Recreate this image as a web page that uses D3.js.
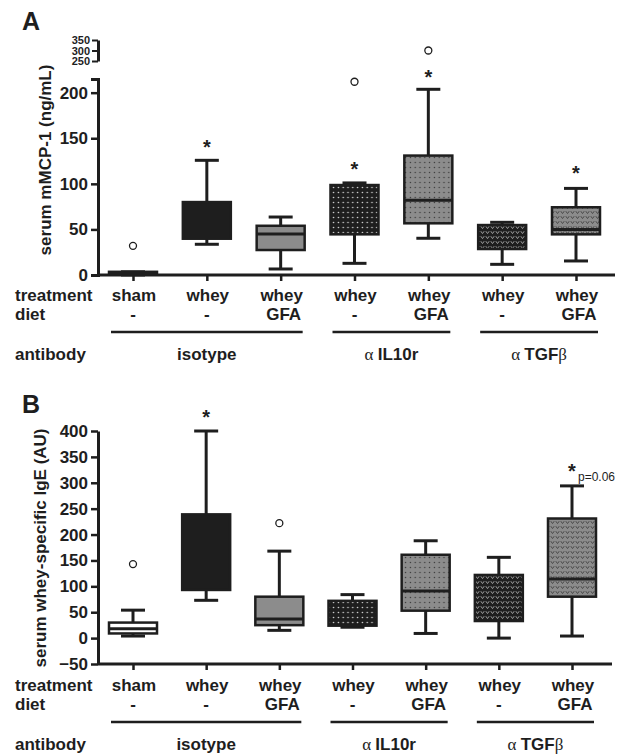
<!DOCTYPE html>
<html>
<head>
<meta charset="utf-8">
<script src="https://cdn.jsdelivr.net/npm/d3@7"></script>
<style>
  body { margin: 0; background: #fff; }
  svg { font-family: "Liberation Sans", Arial, sans-serif; }
  .axis path, .axis line { stroke: #1e1e1e; }
</style>
</head>
<body>
<script>
// groups along the x axis (same for both panels)
var treatments = ["sham", "whey", "whey", "whey", "whey", "whey", "whey"];
var diets = ["-", "-", "GFA", "-", "GFA", "-", "GFA"];
var antibodies = ["isotype", "IL10r", "TGF"];
var antibodyFrom = [0, 3, 5];
var antibodyTo = [2, 4, 6];

// panel A: serum mMCP-1, [min, q1, median, q3, max]
var mcpA = [
	[0, 0.3, 1, 3.5, 3.5],
	[33.7, 39.8, 45, 80, 125.8],
	[6.6, 27.4, 45, 54, 63.6],
	[12.8, 44.6, 75, 98.7, 101],
	[40.3, 56.7, 82, 131, 203.7],
	[11.7, 28.5, 45, 54.8, 57.8],
	[15.4, 44.6, 50, 74.3, 95]
];
var outliersA = [[0, 32], [3, 212], [4, 300]];
var starsA = [[1, 145], [3, 121], [4, 227], [6, 116]];
var ticksALow = [0, 50, 100, 150, 200];
var ticksAHigh = [250, 300, 350];

// panel B: whey-specific IgE
var igeB = [
	[4, 9, 18, 30, 54],
	[73, 93, 150, 239, 400],
	[15, 25, 37, 80, 168],
	[21, 24, 50, 72, 84],
	[9, 53, 91, 161, 188],
	[0, 33, 50, 122, 156],
	[4, 80, 114, 231, 294]
];
var outliersB = [[0, 143], [2, 222]];
var starsB = [[1, 434], [6, 330]];
var ticksB = [-50, 0, 50, 100, 150, 200, 250, 300, 350, 400];

var fills = ["#fff", "#1e1e1e", "#8c8c8c", "url(#dotsW)", "url(#dotsD)", "url(#heartW)", "url(#heartD)"];
var darkBox = [false, true, false, true, false, true, false];

var svg = d3.select("body").append("svg")
	.attr("width", 625)
	.attr("height", 755);

//patterns for the antibody boxes
var defs = svg.append("defs");

function dotPattern(id, bg, dot, r)
{
	var p = defs.append("pattern").attr("id", id)
		.attr("patternUnits", "userSpaceOnUse")
		.attr("width", 4.8).attr("height", 5);
	p.append("rect").attr("width", 4.8).attr("height", 5).attr("fill", bg);
	p.append("circle").attr("cx", 2.4).attr("cy", 2.5).attr("r", r).attr("fill", dot);
}
function heartPattern(id, bg, fg)
{
	var p = defs.append("pattern").attr("id", id)
		.attr("patternUnits", "userSpaceOnUse")
		.attr("width", 5).attr("height", 5);
	p.append("rect").attr("width", 5).attr("height", 5).attr("fill", bg);
	p.append("path").attr("d", "M0.8,1.2 L2.5,3.6 L4.2,1.2")
		.attr("fill", "none").attr("stroke", fg).attr("stroke-width", 1);
}
dotPattern("dotsW", "#1e1e1e", "#d8d8d8", 0.8);
dotPattern("dotsD", "#8c8c8c", "#3a3a3a", 0.7);
heartPattern("heartW", "#1e1e1e", "#9a9a9a");
heartPattern("heartD", "#8c8c8c", "#4a4a4a");

function styleAxis(g, fontSize)
{
	g.attr("class", "axis");
	g.select(".domain").attr("stroke-width", 3);
	g.selectAll(".tick line").attr("stroke-width", 2.5);
	g.selectAll("text")
		.attr("fill", "#1e1e1e")
		.style("font-size", fontSize + "px")
		.style("font-weight", "bold")
		.style("font-family", "'Liberation Sans', Arial, sans-serif");
}

//draws one panel
function drawPanel(o)
{
	var x = o.x;
	var y = o.y;
	var panel = svg.append("g");

	//boxes
	o.data.forEach(function(d, i)
	{
		var cx = x(i);
		var g = panel.append("g");
		g.append("line")
			.attr("x1", cx).attr("x2", cx)
			.attr("y1", y(d[4])).attr("y2", y(d[0]))
			.attr("stroke", "#1e1e1e").attr("stroke-width", 3);
		[d[0], d[4]].forEach(function(v)
		{
			g.append("line")
				.attr("x1", cx - 12).attr("x2", cx + 12)
				.attr("y1", y(v)).attr("y2", y(v))
				.attr("stroke", "#1e1e1e").attr("stroke-width", 3);
		});
		g.append("rect")
			.attr("x", cx - 24).attr("width", 48)
			.attr("y", y(d[3])).attr("height", y(d[1]) - y(d[3]))
			.attr("fill", fills[i])
			.attr("stroke", "#1e1e1e").attr("stroke-width", 2.5);
		if (!darkBox[i])
		{
			g.append("line")
				.attr("x1", cx - 24).attr("x2", cx + 24)
				.attr("y1", y(d[2])).attr("y2", y(d[2]))
				.attr("stroke", "#1e1e1e").attr("stroke-width", 3);
		}
	});

	panel.selectAll("circle.out")
		.data(o.outliers)
		.enter().append("circle")
		.attr("class", "out")
		.attr("cx", function(d) { return x(d[0]); })
		.attr("cy", function(d) { return y(d[1]); })
		.attr("r", 3.5)
		.attr("fill", "#fff").attr("stroke", "#1e1e1e").attr("stroke-width", 1.3);

	panel.selectAll("text.star")
		.data(o.stars)
		.enter().append("text")
		.attr("class", "star")
		.attr("x", function(d) { return x(d[0]); })
		.attr("y", function(d) { return y(d[1]) + 11; })
		.attr("text-anchor", "middle")
		.style("font-size", "20px")
		.style("font-weight", "bold")
		.attr("fill", "#1e1e1e")
		.text("*");

	//x axis with ticks under each group
	var xg = panel.append("g")
		.attr("transform", "translate(0," + o.baseY + ")")
		.call(d3.axisBottom(x).tickSize(6).tickSizeOuter(0).tickFormat(""));
	styleAxis(xg, 12);
	xg.select(".domain").attr("d", "M98,0H" + o.axisEnd);

	//category rows
	var rows = panel.append("g").style("font-weight", "bold").style("font-size", "17px").attr("fill", "#1e1e1e");
	rows.append("text").attr("x", 15).attr("y", o.rowY + 6).text("treatment");
	rows.append("text").attr("x", 15).attr("y", o.rowY + 25).text("diet");
	rows.append("text").attr("x", 15).attr("y", o.rowY + 65).text("antibody");
	treatments.forEach(function(t, i)
	{
		rows.append("text").attr("x", x(i) + 1).attr("y", o.rowY + 6)
			.attr("text-anchor", "middle").text(t);
		rows.append("text").attr("x", x(i) + (diets[i] == "-" ? 0 : 3)).attr("y", o.rowY + 25)
			.attr("text-anchor", "middle").text(diets[i]);
	});
	antibodies.forEach(function(a, k)
	{
		var x0 = x(antibodyFrom[k]) - 22;
		var x1 = x(antibodyTo[k]) + 22;
		rows.append("line")
			.attr("x1", x0).attr("x2", x1)
			.attr("y1", o.rowY + 37).attr("y2", o.rowY + 37)
			.attr("stroke", "#1e1e1e").attr("stroke-width", 2.5);
		var t = rows.append("text").attr("x", (x0 + x1) / 2).attr("y", o.rowY + 65)
			.attr("text-anchor", "middle");
		if (a == "isotype")
		{
			t.text(a);
		}
		else
		{
			t.append("tspan").style("font-family", "'Liberation Serif', serif")
				.style("font-weight", "normal").text("\u03b1 ");
			if (a == "IL10r")
				t.append("tspan").text("IL10r");
			else
			{
				t.append("tspan").text("TGF");
				t.append("tspan").style("font-family", "'Liberation Serif', serif")
					.style("font-weight", "normal").text("\u03b2");
			}
		}
	});

	//panel letter
	svg.append("text").attr("x", 22).attr("y", o.letterY)
		.style("font-size", "25px").style("font-weight", "bold")
		.attr("fill", "#1e1e1e").text(o.letter);

	//y title
	svg.append("text")
		.attr("transform", "translate(" + o.titleX + "," + o.titleY + ") rotate(-90)")
		.attr("text-anchor", "middle")
		.style("font-size", "17px").style("font-weight", "bold")
		.attr("fill", "#1e1e1e")
		.text(o.title);
	return panel;
}

// ---- panel A
var xA = d3.scalePoint().domain(d3.range(7)).range([133, 576]);
var yALow = d3.scaleLinear().domain([0, 215]).range([275, 79]);
var yAHigh = d3.scaleLinear().domain([250, 350]).range([61, 40]);
var yA = d3.scaleLinear().domain([0, 215, 250, 350]).range([275, 79, 61, 40]);

drawPanel({
	x: xA, y: yA, data: mcpA, outliers: outliersA, stars: starsA,
	baseY: 275, axisEnd: 615, rowY: 295, letter: "A", letterY: 30,
	title: "serum mMCP-1 (ng/mL)", titleX: 51, titleY: 160
});

var gLow = svg.append("g").attr("transform", "translate(98,0)")
	.call(d3.axisLeft(yALow).tickValues(ticksALow).tickSize(7).tickSizeOuter(7).tickPadding(3));
styleAxis(gLow, 17);
var gHigh = svg.append("g").attr("transform", "translate(98,0)")
	.call(d3.axisLeft(yAHigh).tickValues(ticksAHigh).tickSize(6).tickSizeOuter(0).tickPadding(2));
styleAxis(gHigh, 11);
gHigh.selectAll(".tick line").attr("stroke-width", 2);

// ---- panel B
var xB = d3.scalePoint().domain(d3.range(7)).range([133, 572]);
var yB = d3.scaleLinear().domain([-50, 400]).range([664, 431]);

drawPanel({
	x: xB, y: yB, data: igeB, outliers: outliersB, stars: starsB,
	baseY: 664, axisEnd: 612, rowY: 685, letter: "B", letterY: 413,
	title: "serum whey-specific IgE (AU)", titleX: 46, titleY: 548
});

var gB = svg.append("g").attr("transform", "translate(98,0)")
	.call(d3.axisLeft(yB).tickValues(ticksB).tickSize(7).tickSizeOuter(0).tickPadding(3));
styleAxis(gB, 17);

svg.append("text")
	.attr("x", xB(6) + 6).attr("y", yB(330) + 14)
	.style("font-size", "12px")
	.attr("fill", "#1e1e1e")
	.text("p=0.06");
</script>
</body>
</html>
